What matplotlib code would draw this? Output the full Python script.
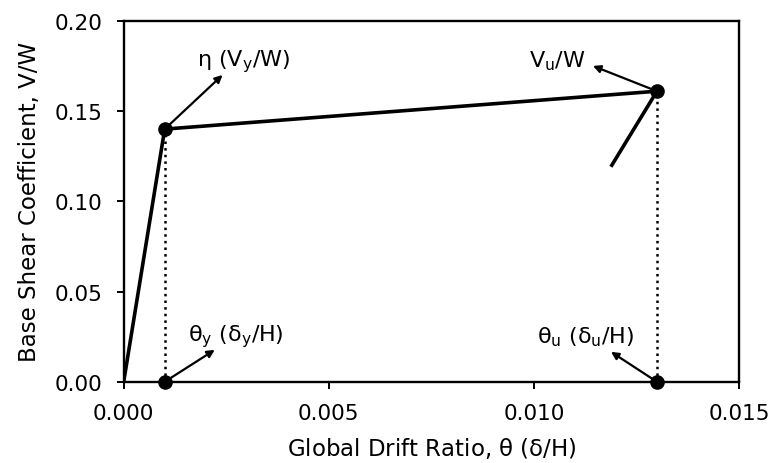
import numpy as np
import matplotlib
matplotlib.use("Agg")
import matplotlib.pyplot as plt

plt.rcParams['font.family'] = ['DejaVu Sans']
plt.rcParams['mathtext.default'] = 'regular'

# bilinear curve points (drift ratio, V/W)
drift = [0.0, 0.001, 0.013]
shear = [0.0, 0.140, 0.161]
# descending branch after ultimate
drop_drift = [0.013, 0.0119]
drop_shear = [0.161, 0.120]

yield_pt = (0.001, 0.140)
ult_pt = (0.013, 0.161)

fig = plt.figure(figsize=(7.73, 4.64), dpi=100)
ax = fig.add_axes([0.160, 0.175, 0.796, 0.778])

ax.plot(drift, shear, color='black', lw=2.6)
ax.plot(drop_drift, drop_shear, color='black', lw=2.6)

# dotted drops to the axis
ax.plot([yield_pt[0], yield_pt[0]], [0, yield_pt[1]], color='black', lw=1.8, ls=':')
ax.plot([ult_pt[0], ult_pt[0]], [0, ult_pt[1]], color='black', lw=1.8, ls=':')

ax.plot([yield_pt[0], ult_pt[0], yield_pt[0], ult_pt[0]],
        [yield_pt[1], ult_pt[1], 0, 0], 'o', color='black', ms=9.5, clip_on=False, zorder=5)

arrow = dict(arrowstyle='-|>', color='black', lw=1.6, mutation_scale=11, shrinkA=0, shrinkB=0)
fs = 16
ax.annotate('', xy=(0.00241, 0.170), xytext=yield_pt, arrowprops=arrow)
ax.text(0.00293, 0.178, r'$\eta$ (V$_y$/W)', fontsize=fs, ha='center', va='center')

ax.annotate('', xy=(0.01144, 0.175), xytext=ult_pt, arrowprops=arrow)
ax.text(0.01056, 0.178, r'V$_u$/W', fontsize=fs, ha='center', va='center')

ax.annotate('', xy=(0.00222, 0.0177), xytext=(yield_pt[0], 0), arrowprops=arrow)
ax.text(0.00273, 0.0255, r'$\theta_y$ ($\delta_y$/H)', fontsize=fs, ha='center', va='center')

ax.annotate('', xy=(0.01188, 0.0166), xytext=(ult_pt[0], 0), arrowprops=arrow)
ax.text(0.01125, 0.0255, r'$\theta_u$ ($\delta_u$/H)', fontsize=fs, ha='center', va='center')

ax.set_xlim(0, 0.015)
ax.set_ylim(0, 0.20)
ax.set_xticks([0, 0.005, 0.010, 0.015])
ax.set_xticklabels(['0.000', '0.005', '0.010', '0.015'])
ax.set_yticks([0, 0.05, 0.10, 0.15, 0.20])
ax.set_yticklabels(['0.00', '0.05', '0.10', '0.15', '0.20'])
ax.tick_params(direction='out', length=5, width=1.4, labelsize=15.5, pad=10)

for s in ax.spines.values():
    s.set_linewidth(1.7)

ax.set_xlabel(r'Global Drift Ratio, $\theta$ ($\delta$/H)', fontsize=16.5, labelpad=9)
ax.set_ylabel('Base Shear Coefficient, V/W', fontsize=16.5, labelpad=10)

fig.savefig('out.png', dpi=100)
